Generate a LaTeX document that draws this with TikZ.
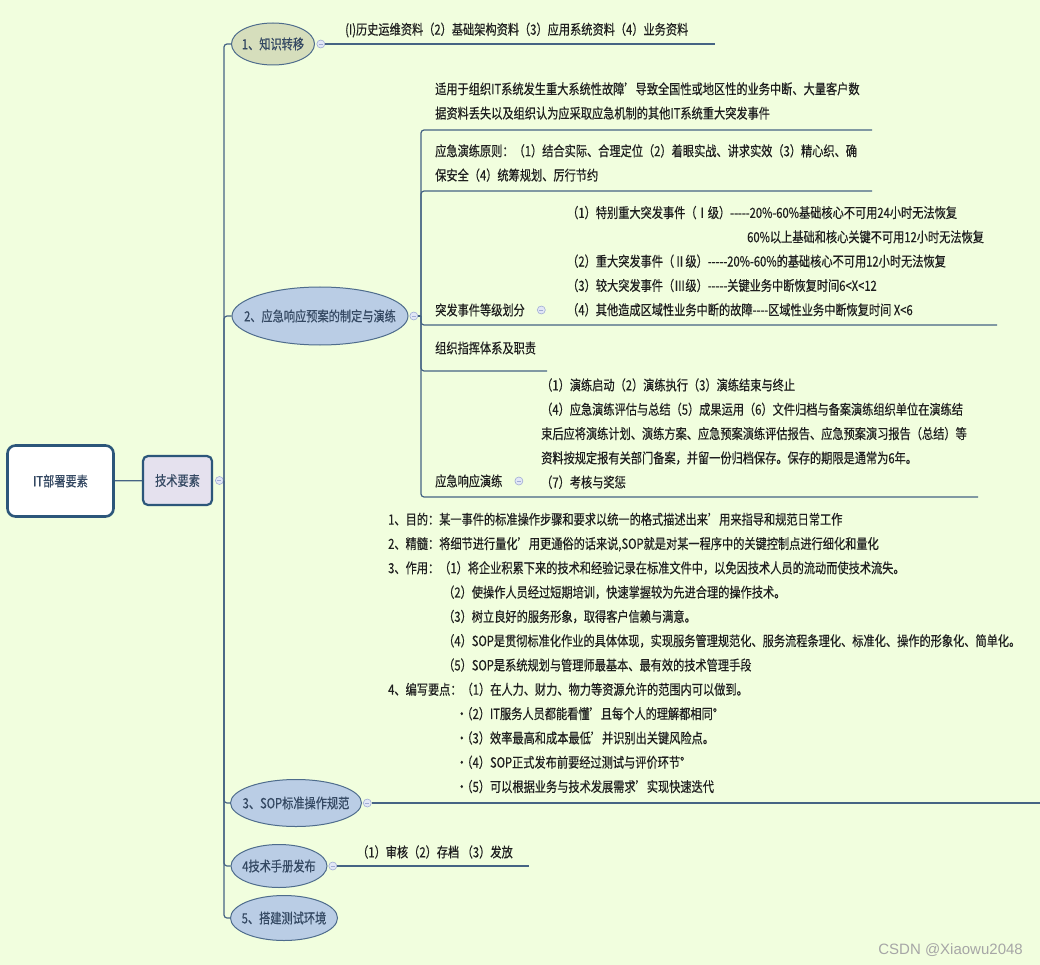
\documentclass[tikz,border=0pt]{standalone}
\usepackage{fontspec}
\usetikzlibrary{shapes.geometric,positioning}
\newfontfamily\cjk[FakeStretch=0.8,FakeBold=0.4]{Noto Sans CJK SC}
\newfontfamily\markfont{Liberation Sans}

\definecolor{bgcol}{RGB}{241,254,222}
\definecolor{linecol}{RGB}{70,100,132}
\definecolor{topicfill}{RGB}{186,205,229}
\definecolor{khakifill}{RGB}{214,222,188}
\definecolor{topicline}{RGB}{78,108,140}
\definecolor{topictext}{RGB}{52,72,98}
\definecolor{techfill}{RGB}{229,225,238}
\definecolor{rootline}{RGB}{44,86,122}
\definecolor{leafcol}{RGB}{30,30,30}
\definecolor{foldfill}{RGB}{226,231,246}
\definecolor{foldline}{RGB}{160,172,212}

\newcommand{\ovaltext}[1]{\makebox[0pt]{#1}}

\begin{document}
\begin{tikzpicture}[
  x=1pt, y=-1pt,
  font=\cjk\fontsize{14}{24.3}\selectfont,
  link/.style={draw=linecol, line width=1.2pt, rounded corners=3pt},
  rootbox/.style={rectangle, rounded corners=8pt, draw=rootline, line width=2.6pt, fill=white, text=topictext},
  techbox/.style={rectangle, rounded corners=5pt, draw=rootline, line width=2.2pt, fill=techfill, text=topictext},
  topic/.style={ellipse, draw=topicline, line width=1pt, fill=topicfill, text=topictext, inner sep=0pt},
  leaf/.style={anchor=west, align=left, inner sep=0pt, text=leafcol},
  fold/.style={circle, draw=foldline, fill=foldfill, line width=0.6pt, minimum size=8pt, inner sep=0pt,
    path picture={\draw[foldline, line width=0.6pt] ([xshift=2pt]path picture bounding box.west) -- ([xshift=-2pt]path picture bounding box.east);}}
]
\useasboundingbox[fill=bgcol] (0,0) rectangle (1040,965);

% Root and centre
\node[rootbox, minimum width=106pt, minimum height=71pt] (root) at (60.5,481) {IT部署要素};
\node[techbox, minimum width=69pt, minimum height=49pt] (tech) at (177.5,480.5) {技术要素};
\node[fold, right=2pt of tech] (f0) {};
\coordinate (j0) at (224,481);

% Main topics
\node[topic, fill=khakifill, minimum width=83pt, minimum height=42pt] (k1) at (273,44) {\ovaltext{1、知识转移}};
\node[topic, minimum width=176pt, minimum height=58pt] (k2) at (320,316) {\ovaltext{2、应急响应预案的制定与演练}};
\node[topic, minimum width=131pt, minimum height=47pt] (k3) at (296,803) {\ovaltext{3、SOP标准操作规范}};
\node[topic, minimum width=96pt, minimum height=43pt] (k4) at (279,866) {\ovaltext{4技术手册发布}};
\node[topic, minimum width=107pt, minimum height=45pt] (k5) at (284,918) {\ovaltext{5、搭建测试环境}};

\node[fold, right=1.5pt of k1] (f1) {};
\node[fold, right=1pt of k2] (f2) {};
\node[fold, right=1pt of k3] (f3) {};
\node[fold, right=1pt of k4] (f4) {};

% Trunk
\draw[link] (root) -- (tech);
\draw[link] (f0) -- (j0);
\foreach \k in {k1,k2,k3,k4,k5}
  \draw[link] (j0) |- (\k.west);

% 1 knowledge transfer
\coordinate (e1) at (715,44);
\draw[link] (f1) -- (e1);
\node[leaf] (t1) at (345,30) {(I)历史运维资料（2）基础架构资料（3）应用系统资料（4）业务资料};

% 2 emergency plan
\coordinate (j2) at (421,316);
\draw[link] (f2) -- (j2);
\coordinate (u21) at (872,130);
\coordinate (u22) at (872,191);
\coordinate (u23) at (997,325);
\coordinate (u24) at (547,371);
\coordinate (u25) at (978,497);
\foreach \u in {u21,u22,u23,u24,u25}
  \draw[link] (j2) |- (\u);

\node[leaf] (a1) at (435,101) {适用于组织IT系统发生重大系统性故障’导致全国性或地区性的业务中断、大量客户数\\据资料丢失以及组织认为应采取应急机制的其他IT系统重大突发事件};
\node[leaf] (a2) at (435,163) {应急演练原则：（1）结合实际、合理定位（2）着眼实战、讲求实效（3）精心织、确\\保安全（4）统筹规划、厉行节约};
\node[leaf] (a3) at (435,310) {突发事件等级划分};
\node[fold, right=12pt of a3] (g3) {};
\node[leaf] (c3) at (567,261.2) {（1）特别重大突发事件（Ⅰ级）-----20\%-60\%基础核心不可用24小时无法恢复\\
\hspace*{180pt}60\%以上基础和核心关键不可用12小时无法恢复\\
（2）重大突发事件（Ⅱ级）-----20\%-60\%的基础核心不可用12小时无法恢复\\
（3）较大突发事件（Ⅲ级）-----关键业务中断恢复时间6<X<12\\
（4）其他造成区域性业务中断的故障----区域性业务中断恢复时间 X<6};
\node[leaf] (a4) at (435,348) {组织指挥体系及职责};
\node[leaf] (a5) at (435,481) {应急响应演练};
\node[fold, right=12pt of a5] (g5) {};
\node[leaf] (c5) at (541,433.6) {（1）演练启动（2）演练执行（3）演练结束与终止\\
（4）应急演练评估与总结（5）成果运用（6）文件归档与备案演练组织单位在演练结\\
束后应将演练计划、演练方案、应急预案演练评估报告、应急预案演习报告（总结）等\\
资料按规定报有关部门备案，并留一份归档保存。保存的期限是通常为6年。\\
（7）考核与奖惩};

% 3 SOP
\coordinate (e3) at (1040,803);
\draw[link] (f3) -- (e3);
\node[leaf] (s3) at (388,653) {1、目的：某一事件的标准操作步骤和要求以统一的格式描述出来’用来指导和规范日常工作\\
2、精髓：将细节进行量化’用更通俗的话来说,SOP就是对某一程序中的关键控制点进行细化和量化\\
3、作用：（1）将企业积累下来的技术和经验记录在标准文件中，以免因技术人员的流动而使技术流失。\\
\hspace*{55pt}（2）使操作人员经过短期培训，快速掌握较为先进合理的操作技术。\\
\hspace*{55pt}（3）树立良好的服务形象，取得客户信赖与满意。\\
\hspace*{55pt}（4）SOP是贯彻标准化作业的具体体现，实现服务管理规范化、服务流程条理化、标准化、操作的形象化、简单化。\\
\hspace*{55pt}（5）SOP是系统规划与管理师最基本、最有效的技术管理手段\\
4、编写要点：（1）在人力、财力、物力等资源允许的范围内可以做到。\\
\hspace*{68pt}·\kern-6pt（2）IT服务人员都能看懂’且每个人的理解都相同°\\
\hspace*{68pt}·\kern-6pt（3）效率最高和成本最低’并识别出关键风险点。\\
\hspace*{68pt}·\kern-6pt（4）SOP正式发布前要经过测试与评价环节°\\
\hspace*{68pt}·\kern-6pt（5）可以根据业务与技术发展需求’实现快速迭代};

% 4 manual
\coordinate (e4) at (529,866);
\draw[link] (f4) -- (e4);
\node[leaf] (t4) at (357,852) {（1）审核（2）存档 （3）发放};

% watermark
\node[font=\markfont\fontsize{15}{18}\selectfont, text=gray!70, anchor=east, inner sep=0pt] (mark) at (1023,950) {CSDN @Xiaowu2048};
\end{tikzpicture}
\end{document}
